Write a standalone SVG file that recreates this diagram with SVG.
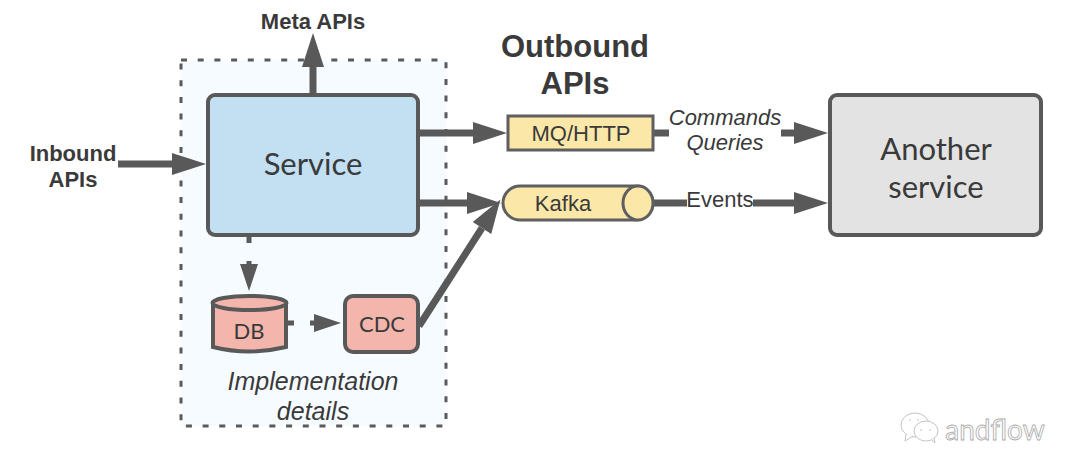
<svg xmlns="http://www.w3.org/2000/svg" width="1080" height="475" viewBox="0 0 1080 475">
<style>
.box{stroke:#595959;stroke-width:4}
.thin{stroke:#5f5f5f;stroke-width:3}
.con{fill:none;stroke:#595959;stroke-width:7}
.con2{fill:none;stroke:#595959;stroke-width:5}
.big{marker-end:url(#headBig)}
.small{marker-end:url(#headSmall)}
text{fill:#3a3a3a;text-anchor:middle}
.sans{font-family:"Liberation Sans",Arial,sans-serif}
.lato{font-family:Lato,"Liberation Sans",sans-serif}
.b{font-weight:700}
.i{font-style:italic}
</style>
<defs>
<marker id="headBig" markerUnits="userSpaceOnUse" markerWidth="38" markerHeight="24" refX="2" refY="12" orient="auto"><path d="M2 1L36 12L2 23Z" fill="#595959"/></marker>
<marker id="headSmall" markerUnits="userSpaceOnUse" markerWidth="32" markerHeight="20" refX="2" refY="10" orient="auto"><path d="M2 1L29 10L2 19Z" fill="#595959"/></marker>
</defs>
<rect width="1080" height="475" fill="#fff"/>
<g id="impl-boundary">
<rect x="181" y="60" width="265" height="366" fill="#f6fbff" stroke="#5a5a5a" stroke-width="3" stroke-dasharray="6 10.700"/>
<text class="sans i" x="313" y="390" font-size="25">Implementation</text>
<text class="sans i" x="313" y="420" font-size="25">details</text>
</g>
<g id="connectors">
<path class="con big" d="M313 95V67"/>
<path class="con big" d="M118 164H172"/>
<path class="con big" d="M420 133H473"/>
<path class="con big" d="M420 203H467"/>
<path class="con big" d="M419 326L482 228"/>
<path class="con" d="M654 133H669"/>
<path class="con big" d="M781 133H794"/>
<path class="con" d="M654 203H687"/>
<path class="con big" d="M753 203H794"/>
<path class="con2" d="M249 236V243"/>
<path class="con2 small" d="M249 261V264"/>
<path class="con2" d="M288 323H294"/>
<path class="con2 small" d="M310 323H314"/>
</g>
<g id="service">
<rect class="box" x="208" y="95" width="210" height="140" rx="7" fill="#c3dff2"/>
<text class="lato" x="313" y="175" font-size="31">Service</text>
</g>
<g id="another-service">
<rect class="box" x="830" y="95" width="211" height="140" rx="7" fill="#e3e3e3"/>
<text class="lato" x="936" y="160" font-size="31">Another</text>
<text class="lato" x="936" y="198" font-size="31">service</text>
</g>
<g id="mq-http">
<rect class="thin" x="508" y="116" width="145" height="34" fill="#fbe7a8"/>
<text class="sans" x="581" y="141" font-size="22">MQ/HTTP</text>
</g>
<g id="kafka">
<path class="thin" d="M520 186H636A17 17 0 0 1 636 220H520A17 17 0 0 1 520 186Z" fill="#fbe7a8"/>
<ellipse class="thin" cx="638" cy="203" rx="15" ry="17" fill="#fbe7a8"/>
<text class="sans" x="563" y="211" font-size="22">Kafka</text>
</g>
<g id="db">
<path class="box" d="M213 303V347Q249 356 286 347V303Z" fill="#f4b6ac"/>
<ellipse class="box" cx="249.500" cy="303" rx="37" ry="7" fill="#f4b6ac"/>
<text class="lato" x="249" y="339" font-size="22">DB</text>
</g>
<g id="cdc">
<rect class="box" x="345" y="296" width="73" height="56" rx="8" fill="#f4b6ac"/>
<text class="lato" x="382" y="332" font-size="22">CDC</text>
</g>
<g id="labels">
<text class="sans b" x="313" y="29" font-size="22">Meta APIs</text>
<text class="sans b" x="73" y="161" font-size="22">Inbound</text>
<text class="sans b" x="73" y="187" font-size="22">APIs</text>
<text class="sans b" x="575" y="57" font-size="31">Outbound</text>
<text class="sans b" x="575" y="94" font-size="31">APIs</text>
<text class="sans i" x="725" y="125" font-size="22">Commands</text>
<text class="sans i" x="725" y="150" font-size="22">Queries</text>
<text class="sans" x="720" y="207" font-size="22">Events</text>
</g>
<g id="watermark" fill="#fff" stroke="#c4c4c4" stroke-width="1">
<ellipse cx="915" cy="425" rx="14" ry="12"/>
<path d="M906 434L905 441L913 436"/>
<ellipse cx="926" cy="431" rx="12" ry="10"/>
<path d="M932 440L935 443L934 438"/>
<path d="M910 419V421M918 419V421M921 429V431M930 429V431"/>
<text x="995" y="440" font-size="28" class="lato" style="fill:#fff;stroke:#a8a8a8;stroke-width:.8">andflow</text>
</g>
</svg>
